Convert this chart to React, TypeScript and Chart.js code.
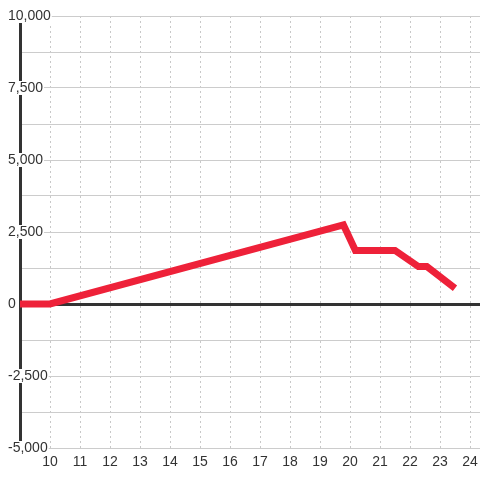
import React, { useEffect, useRef } from "react";
import { Chart, registerables } from "chart.js";

Chart.register(...registerables);

const xValues = [9, 10, 19.78, 20.18, 21.5, 22.28, 22.56, 23.5];
const yValues = [0, 0, 2750, 1860, 1860, 1300, 1300, 550];
const xMin = 9;
const xMax = 24.333;
const yMin = -5000;
const yMax = 10000;
const yStep = 1250;
const yLabelStep = 2500;

const FONT = "'Liberation Sans', Arial, sans-serif";

export default function App() {
  const ref = useRef<HTMLCanvasElement | null>(null);

  useEffect(() => {
    document.body.style.margin = "0";
    const canvas = ref.current;
    if (!canvas) return;
    const chart = new Chart(canvas, {
      type: "line",
      data: {
        datasets: [
          {
            data: xValues.map((x, i) => ({ x, y: yValues[i] })),
            borderColor: "#ee2139",
            borderWidth: 7,
            pointRadius: 0,
            tension: 0,
            borderJoinStyle: "miter",
          },
        ],
      },
      options: {
        animation: false,
        responsive: true,
        maintainAspectRatio: false,
        layout: { padding: { top: 16, left: 0, right: 0, bottom: 0 } },
        plugins: { legend: { display: false }, tooltip: { enabled: false } },
        scales: {
          x: {
            type: "linear",
            min: xMin,
            max: xMax,
            afterFit: (s: any) => {
              s.height = 32;
              s.paddingLeft = 0;
              s.paddingRight = 0;
            },
            grid: {
              color: "#c8c8c8",
              lineWidth: 1,
              drawTicks: false,
            },
            border: { display: false, dash: [2, 3] },
            ticks: {
              stepSize: 1,
              includeBounds: false,
              autoSkip: false,
              maxRotation: 0,
              padding: 6,
              color: "#333",
              font: { family: FONT, size: 14 },
              callback: (v: any) => (v >= 10 && Number.isInteger(v) ? String(v) : ""),
            },
          },
          y: {
            type: "linear",
            min: yMin,
            max: yMax,
            afterFit: (s: any) => {
              s.width = 20;
              s.paddingTop = 0;
              s.paddingBottom = 0;
            },
            grid: {
              color: (ctx: any) => (ctx.tick && ctx.tick.value === 0 ? "#333" : "#cccccc"),
              lineWidth: (ctx: any) => (ctx.tick && ctx.tick.value === 0 ? 3 : 1),
              drawTicks: false,
            },
            border: { display: true, color: "#333", width: 3 },
            ticks: {
              stepSize: yStep,
              autoSkip: false,
              mirror: true,
              padding: -12,
              color: "#333",
              font: { family: FONT, size: 14, lineHeight: 1 },
              showLabelBackdrop: (ctx: any) => !!ctx.tick && ctx.tick.value % yLabelStep === 0,
              backdropColor: "#ffffff",
              backdropPadding: { top: 0, bottom: 0, left: 1, right: 1 },
              callback: (v: any) => (v % yLabelStep === 0 ? Number(v).toLocaleString("en-US") : ""),
            },
          },
        },
      },
    });
    return () => chart.destroy();
  }, []);

  return (
    <div style={{ position: "relative", width: 480, height: 480 }}>
      <canvas ref={ref} />
    </div>
  );
}
